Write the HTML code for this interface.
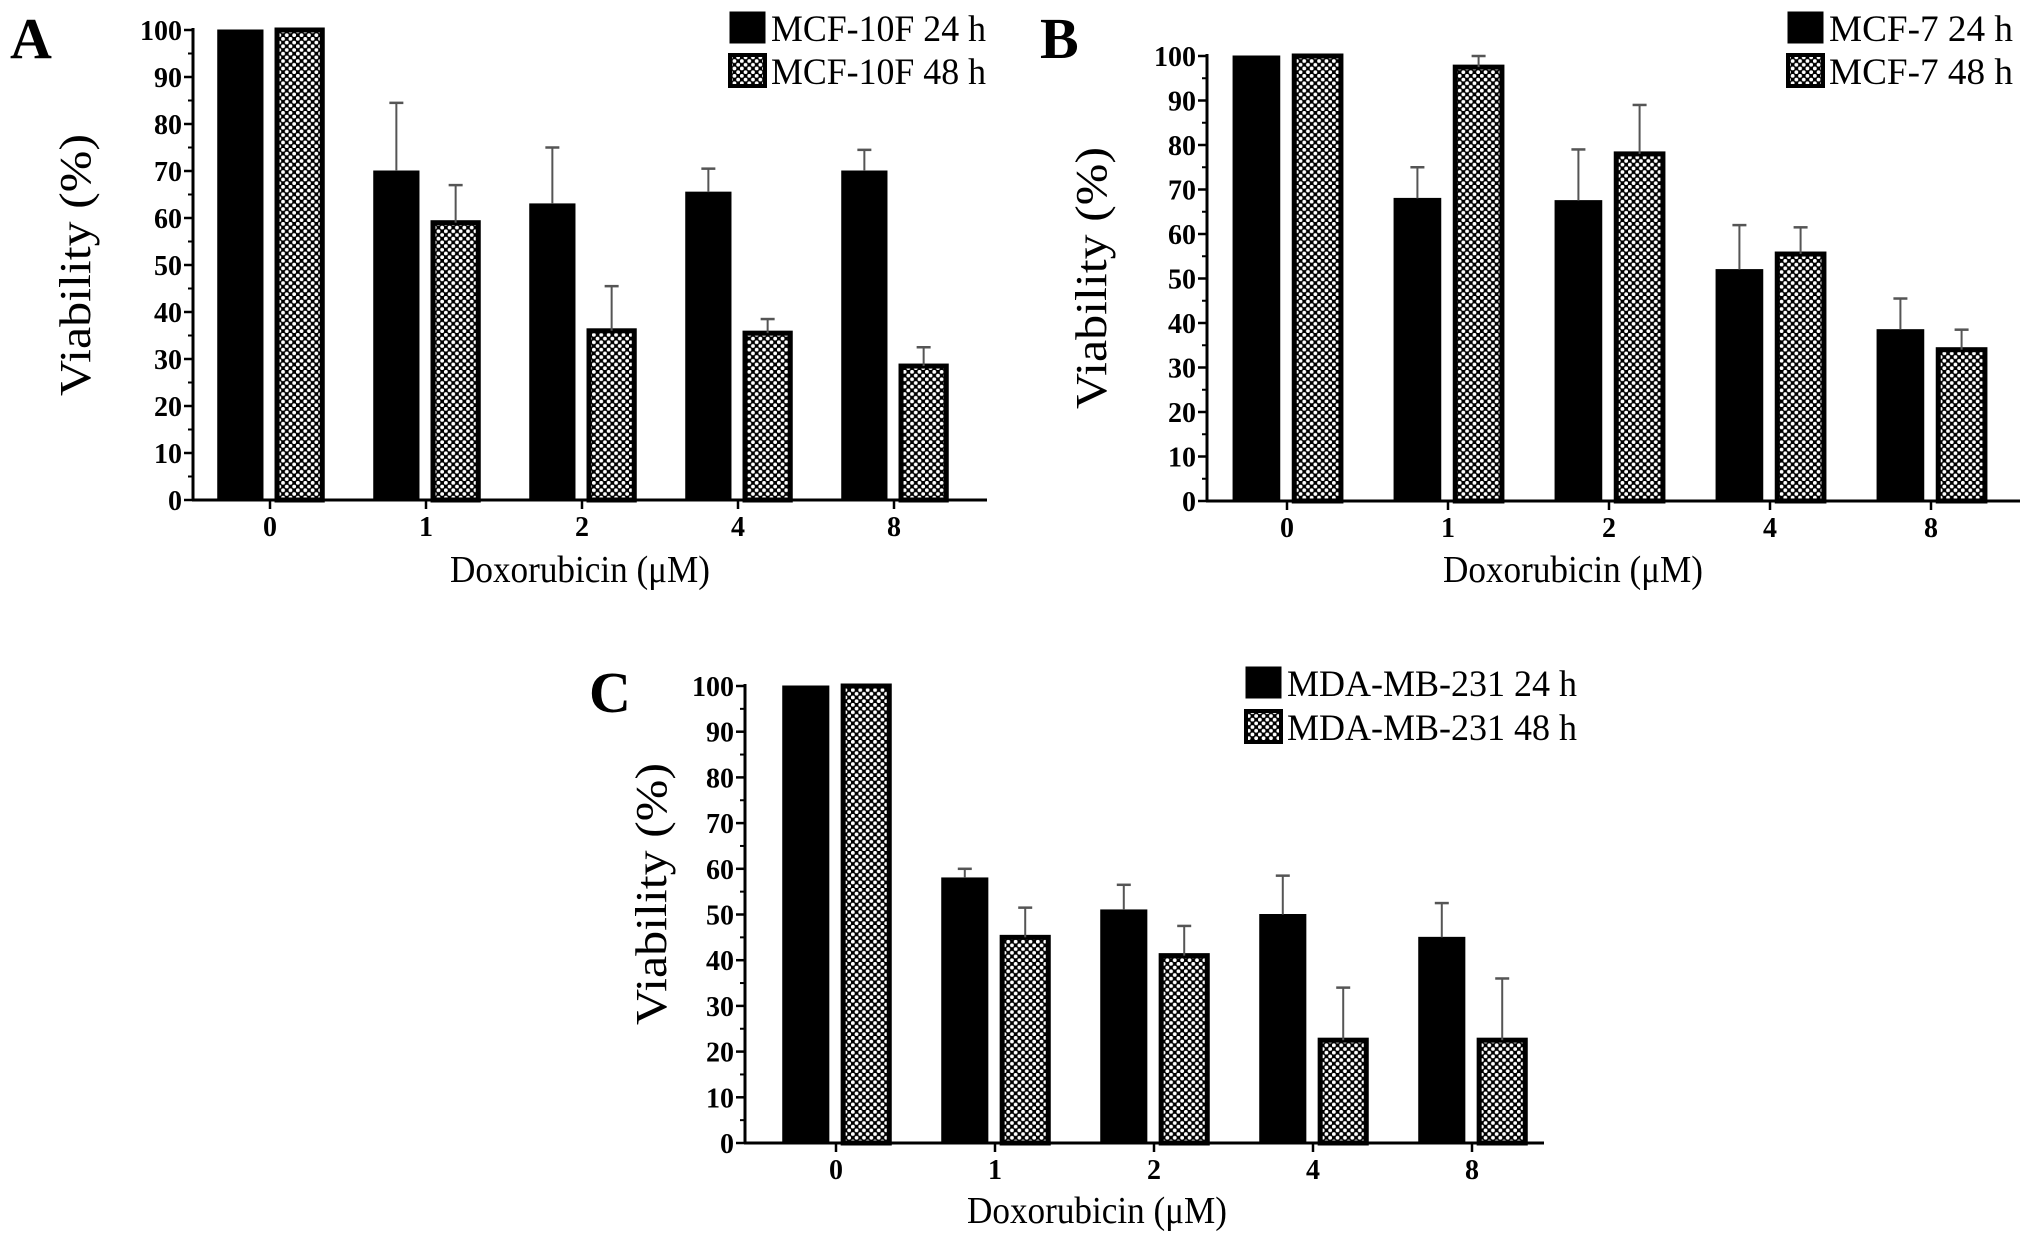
<!DOCTYPE html>
<html><head><meta charset="utf-8"><style>
html,body{margin:0;padding:0;background:#fff;}
svg{display:block;}
text{font-family:"Liberation Serif",serif;fill:#000;}
.tick{font-weight:bold;font-size:29px;}
</style></head><body>
<svg id="chart" width="2031" height="1239" viewBox="0 0 2031 1239" xmlns="http://www.w3.org/2000/svg">
<defs>
<pattern id="chk" patternUnits="userSpaceOnUse" width="7.4" height="7.4">
<rect width="7.4" height="7.4" fill="#000"/>
<circle cx="1.85" cy="1.85" r="1.9" fill="#fff"/>
<circle cx="5.55" cy="5.55" r="1.9" fill="#fff"/>
</pattern>
</defs>
</svg>
<script>
const categories = ["0","1","2","4","8"];
const yTicks = [0,10,20,30,40,50,60,70,80,90,100];
// Panel A: MCF-10F
const a24 = [100,70,63,65.5,70];
const a24err = [0,14.5,12,5,4.5];
const a48 = [100,59,36,35.5,28.5];
const a48err = [0,8,9.5,3,4];
const aLegend = ["MCF-10F 24 h","MCF-10F 48 h"];
// Panel B: MCF-7
const b24 = [100,68,67.5,52,38.5];
const b24err = [0,7,11.5,10,7];
const b48 = [100,97.5,78,55.5,34];
const b48err = [0,2.5,11,6,4.5];
const bLegend = ["MCF-7 24 h","MCF-7 48 h"];
// Panel C: MDA-MB-231
const c24 = [100,58,51,50,45];
const c24err = [0,2,5.5,8.5,7.5];
const c48 = [100,45,41,22.5,22.5];
const c48err = [0,6.5,6.5,11.5,13.5];
const cLegend = ["MDA-MB-231 24 h","MDA-MB-231 48 h"];

const svg = document.getElementById('chart');
const NS = "http://www.w3.org/2000/svg";
function el(tag, attrs, parent){
  const e = document.createElementNS(NS, tag);
  for (const k in attrs) e.setAttribute(k, attrs[k]);
  (parent||svg).appendChild(e);
  return e;
}

function panel(p){
  const g = el('g', {});
  
  
  const y = v => p.y0 - (p.y0 - p.y100) * v / 100;
  const x = i => p.x0cat + i * p.step;
  const bw = p.step * 0.29, gap = p.step * 0.09;
  const series = [[p.s24, p.e24, '#000', '24h'], [p.s48, p.e48, 'url(#chk)', '48h']];
  series.forEach((s, si) => {
    s[0].forEach((v, i) => {
      const left = si === 0 ? x(i) - gap/2 - bw : x(i) + gap/2;
      const r = el('rect', {x: left, y: y(v), width: bw, height: y(0) - y(v), fill: s[2], stroke: '#000', 'stroke-width': si ? 5 : 1}, g);
      
      
      if (s[1][i] > 0) {
        const cx = left + bw/2;
        const e1 = el('line', {x1: cx, x2: cx, y1: y(v), y2: y(v + s[1][i]), stroke: '#555', 'stroke-width': 2}, g);
        
        
        el('line', {x1: cx - 7, x2: cx + 7, y1: y(v + s[1][i]), y2: y(v + s[1][i]), stroke: '#555', 'stroke-width': 2.5}, g);
      }
    });
  });
  const ya = el('line', {x1: p.ax, x2: p.ax, y1: y(100) - 2, y2: y(0), stroke: '#000', 'stroke-width': 3}, g);
  
  
  const xa = el('line', {x1: p.ax - 1, x2: p.xEnd, y1: y(0), y2: y(0), stroke: '#000', 'stroke-width': 3}, g);
  
  
  yTicks.forEach(t => {
    el('line', {x1: p.ax - 9, x2: p.ax, y1: y(t), y2: y(t), stroke: '#000', 'stroke-width': 2.5}, g);
    if (t < 100) el('line', {x1: p.ax - 5, x2: p.ax, y1: y(t + 5), y2: y(t + 5), stroke: '#000', 'stroke-width': 2}, g);
    const tl = el('text', {x: p.ax - 11, y: y(t) + 10, 'text-anchor': 'end', class: 'tick', textLength: String(t).length * 14, lengthAdjust: 'spacingAndGlyphs'}, g);
    
    
    tl.textContent = t;
  });
  categories.forEach((c, i) => {
    el('line', {x1: x(i), x2: x(i), y1: y(0), y2: y(0) + 9, stroke: '#000', 'stroke-width': 2.5}, g);
    const tl = el('text', {x: x(i), y: y(0) + 36, 'text-anchor': 'middle', class: 'tick', textLength: 14, lengthAdjust: 'spacingAndGlyphs'}, g);
    
    
    tl.textContent = c;
  });
  const xt = el('text', {x: p.xtX, y: p.xtY, 'text-anchor': 'middle', 'font-size': 38, textLength: 260, lengthAdjust: 'spacingAndGlyphs'}, g);
  
  
  xt.textContent = 'Doxorubicin (\u03bcM)';
  const yt = el('text', {x: 0, y: 0, 'text-anchor': 'middle', 'font-size': 44, textLength: 262, lengthAdjust: 'spacingAndGlyphs', transform: 'translate(' + p.ytX + ',' + p.ytY + ') rotate(-90)'}, g);
  
  
  yt.textContent = 'Viability (%)';
  const lt = el('text', {x: p.lx, y: p.ly, 'font-size': 58, 'font-weight': 'bold'}, g);
  
  
  lt.textContent = p.id;
  p.legend.forEach((name, i) => {
    const ly = p.legY + i * p.legDy;
    const sw = el('rect', {x: p.legX, y: ly, width: 35, height: 31, fill: i ? 'url(#chk)' : '#000', stroke: '#000', 'stroke-width': i ? 4 : 1}, g);
    
    
    const t = el('text', {x: p.legX + 41, y: ly + 29, 'font-size': 37, textLength: p.legW, lengthAdjust: 'spacingAndGlyphs'}, g);
    
    
    t.textContent = name;
  });
}

panel({id: 'A', s24: a24, e24: a24err, s48: a48, e48: a48err, legend: aLegend,
  ax: 193, xEnd: 987, y0: 500, y100: 30, x0cat: 270, step: 156,
  xtX: 580, xtY: 582, ytX: 90, ytY: 265, lx: 10, ly: 58,
  legX: 730, legY: 12, legDy: 43, legW: 215});
panel({id: 'B', s24: b24, e24: b24err, s48: b48, e48: b48err, legend: bLegend,
  ax: 1207, xEnd: 2020, y0: 501, y100: 56, x0cat: 1287, step: 161,
  xtX: 1573, xtY: 582, ytX: 1106, ytY: 278, lx: 1040, ly: 58,
  legX: 1788, legY: 12, legDy: 43, legW: 184});
panel({id: 'C', s24: c24, e24: c24err, s48: c48, e48: c48err, legend: cLegend,
  ax: 745, xEnd: 1544, y0: 1143, y100: 686, x0cat: 836, step: 159,
  xtX: 1097, xtY: 1223, ytX: 666, ytY: 894, lx: 589, ly: 712,
  legX: 1246, legY: 667, legDy: 44, legW: 290});
</script>
</body></html>
